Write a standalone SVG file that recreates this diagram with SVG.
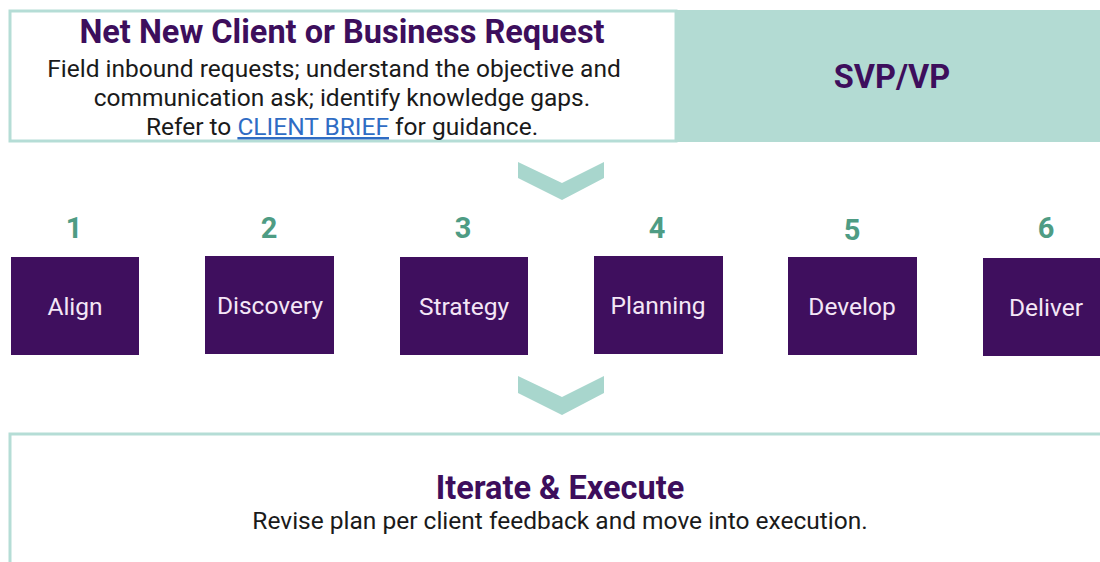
<svg xmlns="http://www.w3.org/2000/svg" width="1100" height="562" viewBox="0 0 1100 562">
  <style>
    .panel { fill: #ffffff; stroke: #b5ddd6; stroke-width: 3; }
    .role { fill: #b3dbd3; }
    .title { font-family: Roboto, "Liberation Sans", sans-serif; font-weight: 700; font-size: 32.5px; fill: #3d0e5c; text-anchor: middle; }
    .body { font-family: Roboto, "Liberation Sans", sans-serif; font-size: 24.5px; fill: #1a1a1a; text-anchor: middle; }
    .link { fill: #2f6cc4; text-decoration: underline; }
    .step { fill: #3f0f5e; }
    .step-label { font-family: Roboto, "Liberation Sans", sans-serif; font-size: 24.5px; fill: #f4e6f6; text-anchor: middle; }
    .num { font-family: Roboto, "Liberation Sans", sans-serif; font-weight: 700; font-size: 29px; fill: #4e9c84; text-anchor: middle; }
    .chevron { fill: #a8d6cd; }
  </style>

  <rect width="1100" height="562" fill="#ffffff"/>

  <!-- intake panel -->
  <g id="intake">
    <rect class="panel" x="10" y="11" width="666" height="130"/>
    <text class="title" x="342" y="43">Net New Client or Business Request</text>
    <text class="body" x="334" y="77">Field inbound requests; understand the objective and</text>
    <text class="body" x="342" y="106">communication ask; identify knowledge gaps.</text>
    <text class="body" x="342" y="135">Refer to <tspan class="link">CLIENT BRIEF</tspan> for guidance.</text>
  </g>

  <!-- owner panel -->
  <g id="owner">
    <rect class="role" x="675" y="10" width="425" height="132"/>
    <text class="title" x="892" y="88">SVP/VP</text>
  </g>

  <!-- process steps -->
  <g id="step-1">
    <text class="num" x="74" y="238">1</text>
    <rect class="step" x="11" y="257" width="128" height="98"/>
    <text class="step-label" x="75" y="315">Align</text>
  </g>
  <g id="step-2">
    <text class="num" x="269" y="238">2</text>
    <rect class="step" x="205" y="256" width="129" height="98"/>
    <text class="step-label" x="270" y="314">Discovery</text>
  </g>
  <g id="step-3">
    <text class="num" x="463" y="238">3</text>
    <rect class="step" x="400" y="257" width="128" height="98"/>
    <text class="step-label" x="464" y="315">Strategy</text>
  </g>
  <g id="step-4">
    <text class="num" x="657" y="238">4</text>
    <rect class="step" x="594" y="256" width="129" height="98"/>
    <text class="step-label" x="658" y="314">Planning</text>
  </g>
  <g id="step-5">
    <text class="num" x="852" y="240">5</text>
    <rect class="step" x="788" y="257" width="129" height="98"/>
    <text class="step-label" x="852" y="315">Develop</text>
  </g>
  <g id="step-6">
    <text class="num" x="1046" y="238">6</text>
    <rect class="step" x="983" y="258" width="130" height="98"/>
    <text class="step-label" x="1046" y="316">Deliver</text>
  </g>

  <!-- execution panel -->
  <g id="execute">
    <rect class="panel" x="10" y="434" width="1100" height="140"/>
    <text class="title" x="560" y="499">Iterate &amp; Execute</text>
    <text class="body" x="560" y="529">Revise plan per client feedback and move into execution.</text>
  </g>

  <!-- flow chevrons -->
  <g id="connectors">
    <polygon class="chevron" points="518,162 562,183 604,162 604,178 562,200 518,178"/>
    <polygon class="chevron" points="518,376 562,397 604,376 604,393 562,415 518,393"/>
  </g>
</svg>
